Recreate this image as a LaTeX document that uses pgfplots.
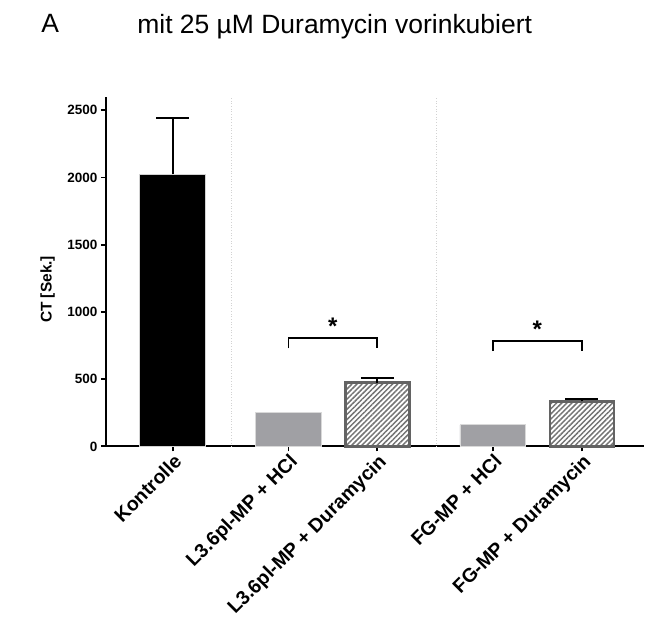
\documentclass[border=0pt]{standalone}
\usepackage{fontspec}
\setmainfont{Liberation Sans}
\usepackage{pgfplots}
\pgfplotsset{compat=1.18}
\usetikzlibrary{patterns.meta}
\definecolor{bargray}{HTML}{A0A0A4}
\definecolor{edgegray}{HTML}{636363}
\definecolor{hatchgray}{HTML}{747474}
\begin{document}
\begin{tikzpicture}
\begin{axis}[
  scale only axis, width=539pt, height=350pt,
  xmin=-0.753, xmax=5.3, ymin=0, ymax=2600,
  axis x line*=bottom, axis y line*=left,
  axis line style={line width=1.8pt, black},
  xtick={0,1.3,2.3,3.6,4.6},
  xticklabels={Kontrolle, L3.6pl-MP + HCl, L3.6pl-MP + Duramycin, FG-MP + HCl, FG-MP + Duramycin},
  ytick={0,500,...,2500},
  tick style={line width=1.8pt, black},
  major tick length=5pt,
  tick align=outside,
  x tick label style={rotate=45, anchor=north east, font=\fontsize{19.5}{19.5}\selectfont\bfseries, inner sep=1pt},
  y tick label style={font=\fontsize{13.5}{13.5}\selectfont\bfseries},
  /pgf/number format/assume math mode=true,
  /pgf/number format/1000 sep={},
  ylabel={\fontsize{15.5}{15.5}\selectfont\bfseries CT [Sek.]},
  ylabel style={at={(ticklabel cs:0.449,7pt)}, inner sep=2pt},
  clip=false,
]
% separators
\addplot[gray!35, dotted, line width=0.7pt] coordinates {(0.663,0) (0.663,2600)};
\addplot[gray!35, dotted, line width=0.7pt] coordinates {(2.966,0) (2.966,2600)};
% bars
\addplot[ybar, bar width=66pt, bar shift=0pt, fill=black, draw=gray!35, line width=0.8pt,
  error bars/.cd, y dir=plus, y explicit,
  error bar style={line width=2pt, black},
  error mark options={rotate=90, mark size=16.5pt, line width=2pt, black}]
  coordinates {(0,2025) +- (0,415)};
\addplot[ybar, bar width=66pt, bar shift=0pt, fill=bargray, draw=gray!30, line width=0.8pt]
  coordinates {(1.3,255) (3.6,160)};
\addplot[ybar, bar width=64pt, bar shift=0pt, pattern={Lines[angle=45,distance=3.6pt,line width=1.5pt]}, pattern color=hatchgray, draw=edgegray, line width=2.5pt,
  error bars/.cd, y dir=plus, y explicit,
  error bar style={line width=2pt, black},
  error mark options={rotate=90, mark size=16.5pt, line width=2pt, black}]
  coordinates {(2.3,475) +- (0,35) (4.6,335) +- (0,18)};
% brackets
\addplot[black, line width=1.8pt] coordinates {(1.3,729) (1.3,804) (2.3,804) (2.3,729)};
\addplot[black, line width=1.8pt] coordinates {(3.6,709) (3.6,783) (4.6,783) (4.6,709)};
\node[anchor=base, font=\fontsize{24}{24}\selectfont\bfseries] at (axis cs:1.8,830) {*};
\node[anchor=base, font=\fontsize{24}{24}\selectfont\bfseries] at (axis cs:4.1,808) {*};
\end{axis}
\node[anchor=base west, font=\fontsize{26.5}{26.5}\selectfont] at ([shift={(-68pt,64pt)}]current axis.north west) {A};
\node[anchor=base west, font=\fontsize{26.5}{26.5}\selectfont] at ([shift={(28pt,63pt)}]current axis.north west) {mit 25 µM Duramycin vorinkubiert};
\path[use as bounding box] ([shift={(-106pt,-178pt)}]current axis.south west) rectangle ([shift={(0pt,97pt)}]current axis.north east);
\end{tikzpicture}
\end{document}
